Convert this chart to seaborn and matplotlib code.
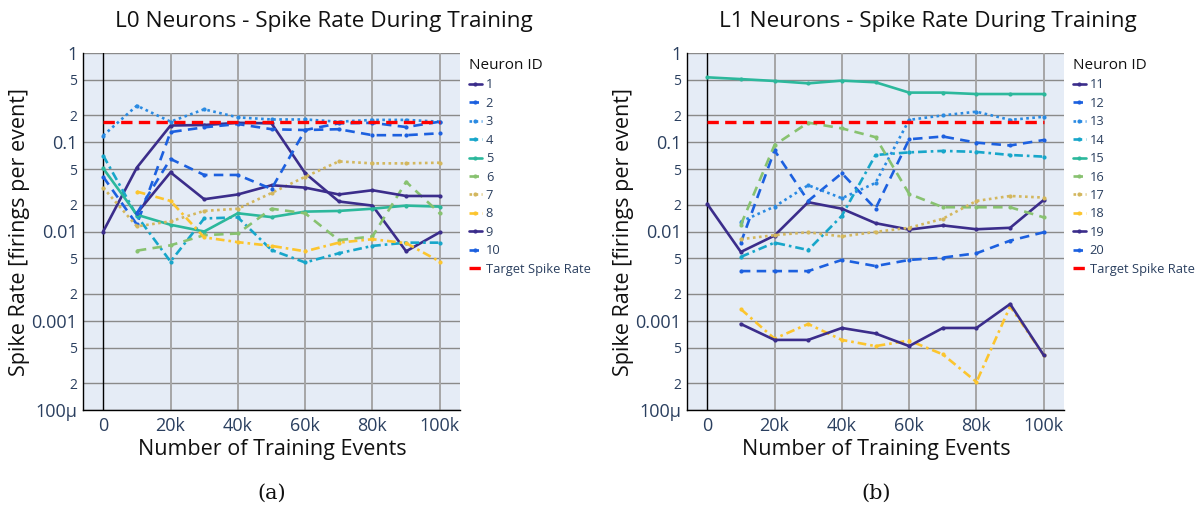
import numpy as np
import pandas as pd
import matplotlib
matplotlib.use("Agg")
import matplotlib.pyplot as plt
import seaborn as sns

# eventos de entrenamiento (eje x)
steps = [0, 10000, 20000, 30000, 40000, 50000, 60000, 70000, 80000, 90000, 100000]
nan = np.nan
target_rate = 1 / 6

# capa L0
l0_ids = [1, 2, 3, 4, 5, 6, 7, 8, 9, 10]
l0_rates = [
    [0.01, 0.052, 0.154, 0.156, 0.165, 0.163, 0.045, 0.0217, 0.0195, 0.006, 0.0098],
    [0.041, 0.012, 0.13, 0.147, 0.16, 0.14, 0.137, 0.14, 0.12, 0.12, 0.126],
    [0.119, 0.257, 0.17, 0.234, 0.19, 0.18, 0.18, 0.17, 0.178, 0.178, 0.17],
    [0.071, 0.015, 0.0046, 0.014, 0.0144, 0.0062, 0.0045, 0.0057, 0.0069, 0.0075, 0.0075],
    [0.051, 0.0154, 0.0119, 0.010, 0.016, 0.0145, 0.0167, 0.017, 0.018, 0.0195, 0.019],
    [nan, 0.0061, 0.007, 0.0091, 0.0095, 0.018, 0.016, 0.008, 0.0088, 0.036, 0.016],
    [0.031, 0.0114, 0.013, 0.017, 0.018, 0.027, 0.041, 0.061, 0.058, 0.058, 0.059],
    [nan, 0.028, 0.022, 0.0086, 0.0076, 0.0069, 0.006, 0.0075, 0.0082, 0.0074, 0.0046],
    [nan, 0.016, 0.046, 0.023, 0.026, 0.033, 0.031, 0.026, 0.029, 0.025, 0.025],
    [nan, 0.016, 0.065, 0.043, 0.043, 0.030, 0.137, 0.163, 0.165, 0.148, 0.17],
]

# capa L1
l1_ids = [11, 12, 13, 14, 15, 16, 17, 18, 19, 20]
l1_rates = [
    [0.0204, 0.0059, 0.009, 0.0213, 0.018, 0.0124, 0.0105, 0.0117, 0.0106, 0.011, 0.0226],
    [nan, 0.0075, 0.081, 0.022, 0.045, 0.018, 0.108, 0.116, 0.099, 0.092, 0.106],
    [nan, 0.0129, 0.019, 0.033, 0.0236, 0.035, 0.178, 0.2, 0.22, 0.178, 0.193],
    [nan, 0.0052, 0.0075, 0.0062, 0.015, 0.072, 0.077, 0.08, 0.078, 0.072, 0.069],
    [0.534, 0.51, 0.486, 0.457, 0.49, 0.47, 0.36, 0.36, 0.347, 0.347, 0.347],
    [nan, 0.0119, 0.093, 0.166, 0.143, 0.114, 0.0264, 0.0187, 0.0187, 0.0187, 0.0144],
    [nan, 0.0082, 0.0091, 0.0098, 0.0088, 0.0099, 0.011, 0.0139, 0.022, 0.025, 0.024],
    [nan, 0.00135, 0.00063, 0.00092, 0.00061, 0.00052, 0.0006, 0.00042, 0.000206, 0.00145, 0.00041],
    [nan, 0.00092, 0.00061, 0.00061, 0.00083, 0.00072, 0.00052, 0.00083, 0.00083, 0.00154, 0.00041],
    [nan, 0.0036, 0.0036, 0.0036, 0.0048, 0.0041, 0.0048, 0.0051, 0.0057, 0.0079, 0.0098],
]

colores = ["#3b2d8b", "#1c60df", "#2a8ae2", "#17a6ca", "#2cb89c", "#88c270", "#d3b75e", "#fcc52e"]
estilos = ["-", (0, (3.6, 2.4)), (0, (1, 1.3)), (0, (3.3, 1.5, 1, 1.5))]

ytick_vals = [1, 0.5, 0.2, 0.1, 0.05, 0.02, 0.01, 0.005, 0.002, 0.001, 5e-4, 2e-4, 1e-4]
ytick_labels = ["1", "5", "2", "0.1", "5", "2", "0.01", "5", "2", "0.001", "5", "2", "100μ"]
xtick_vals = [0, 20000, 40000, 60000, 80000, 100000]
xtick_labels = ["0", "20k", "40k", "60k", "80k", "100k"]

sns.set_style("white")
plt.rcParams["font.family"] = ["Open Sans", "DejaVu Sans"]

W, H = 1195, 508
fig = plt.figure(figsize=(W / 100, H / 100), dpi=100)

tick_color = "#2a3f5f"


def dibujar(x0, ids, rates, titulo, letra):
    ax = fig.add_axes([x0 / W, 1 - 410 / H, 377 / W, 357 / H])
    ax.set_facecolor("#e5ecf6")
    for i, (nid, vals) in enumerate(zip(ids, rates)):
        df = pd.DataFrame({"x": steps, "y": vals}).dropna()
        sns.lineplot(data=df, x="x", y="y", ax=ax, color=colores[i % 8], linestyle=estilos[i % 4],
                     linewidth=1.9, marker="o", markersize=3, markeredgewidth=0, label=str(nid))
    ax.plot([0, 100000], [target_rate, target_rate], color="#ff0000", linewidth=2.4,
            linestyle=(0, (3.4, 1.9)), label="Target Spike Rate")
    ax.set_yscale("log")
    ax.set_ylim(1e-4, 1)
    ax.set_xlim(-6000, 106000)
    ax.set_yticks(ytick_vals)
    ax.set_yticklabels(ytick_labels)
    ax.minorticks_off()
    ax.set_xticks(xtick_vals)
    ax.set_xticklabels(xtick_labels)
    for t in ax.get_yticklabels():
        t.set_fontsize(13 if t.get_text() not in ("5", "2") else 10)
        t.set_color(tick_color)
    for t in ax.get_xticklabels():
        t.set_fontsize(13)
        t.set_color(tick_color)
    ax.tick_params(axis="both", length=0)
    ax.tick_params(axis="y", pad=4)
    ax.tick_params(axis="x", pad=5)
    # rejilla
    for v in ytick_vals:
        ax.axhline(v, color="#8a8a8a", linewidth=1, zorder=0.5)
    for v in xtick_vals[1:]:
        ax.axvline(v, color="#a6a6a6", linewidth=1.4, zorder=0.5)
    ax.axvline(0, color="black", linewidth=1, zorder=0.6)
    ax.grid(False)
    for s in ["top", "right"]:
        ax.spines[s].set_visible(False)
    for s in ["left", "bottom"]:
        ax.spines[s].set_color("black")
        ax.spines[s].set_linewidth(1)
    ax.set_xlabel("")
    ax.set_ylabel("")
    leg = ax.legend(loc="upper left", bbox_to_anchor=((x0 + 386) / W, 1 - 58 / H),
                    bbox_transform=fig.transFigure, frameon=False, title="Neuron ID",
                    fontsize=9.3, title_fontsize=11, handlelength=1.0, handletextpad=0.3,
                    labelspacing=0.42, borderpad=0, borderaxespad=0, alignment="left")
    for t in leg.get_texts():
        t.set_color(tick_color)
    leg.get_title().set_color("#111111")
    cx = x0 + 189
    fig.text((x0 + 241) / W, 1 - 22 / H, titulo, ha="center", va="center", fontsize=16.2, color="#111111")
    fig.text(cx / W, 1 - 450 / H, "Number of Training Events", ha="center", va="center",
             fontsize=15.5, color="#111111")
    fig.text((x0 - 63) / W, 1 - 232 / H, "Spike Rate [firings per event]", ha="center", va="center",
             rotation=90, fontsize=15.5, color="#111111")
    fig.text(cx / W, 1 - 493 / H, letra, ha="center", va="center", fontsize=15,
             family="DejaVu Serif", color="#111111")
    return ax


dibujar(83, l0_ids, l0_rates, "L0 Neurons - Spike Rate During Training", "(a)")
dibujar(687, l1_ids, l1_rates, "L1 Neurons - Spike Rate During Training", "(b)")

fig.savefig("out.png", dpi=100)
